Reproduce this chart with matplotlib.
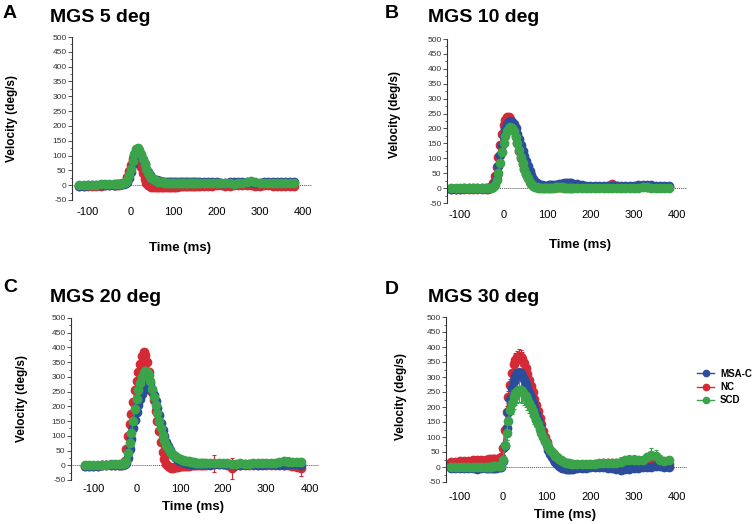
import matplotlib
matplotlib.use('Agg')
import matplotlib.pyplot as plt
from matplotlib.lines import Line2D
from matplotlib.ticker import MultipleLocator

plt.rcParams['font.family'] = ['Liberation Sans', 'DejaVu Sans']
plt.rcParams['axes.unicode_minus'] = False

# time axis (ms): 10 ms samples on the baseline, 4 ms samples around the saccade
time_ms = list(range(-120, -40, 10)) + list(range(-40, 161, 4)) + list(range(170, 381, 10))

# MGS 5 deg
a_msa = [-2, -2, -1, -1, 0, 0, 1, 1,
         2, 2, 3, 3, 3, 4, 5, 7, 12, 25,
         45, 72, 98, 115, 118, 112, 100, 85, 70, 56,
         44, 35, 28, 22, 18, 16, 14, 13, 12, 12,
         11, 11, 11, 10, 10, 10, 10, 10, 10, 10,
         11, 11, 11, 12, 12, 12, 12, 12, 12, 12, 11,
         11, 10, 10, 10, 9, 9, 10, 10, 10, 11, 12, 10, 9, 9, 10, 11, 12, 12, 11, 11, 12, 12]
a_nc = [-4, -4, -3, -3, -2, -2, -1, 0,
        1, 1, 2, 2, 3, 4, 8, 15, 28, 48,
        68, 88, 100, 102, 95, 80, 60, 40, 22, 8,
        0, -4, -6, -7, -7, -7, -7, -7, -6, -6,
        -6, -6, -5, -5, -5, -5, -5, -5, -4, -4,
        -4, -4, -4, -3, -3, -3, -3, -3, -3, -3, -2,
        -2, -2, -2, -1, -1, -2, -2, -1, 0, 2, 1, -1, -2, -2, -1, -1, -2, -3, -3, -2, -3, -4]
a_scd = [0, 1, 1, 2, 2, 3, 3, 4,
         4, 4, 5, 5, 5, 6, 7, 10, 18, 35,
         55, 80, 105, 122, 127, 120, 105, 88, 70, 55,
         42, 32, 25, 20, 16, 13, 12, 11, 10, 10,
         9, 9, 9, 8, 8, 8, 8, 7, 7, 7,
         8, 8, 7, 7, 7, 8, 8, 7, 7, 7, 7,
         7, 6, 6, 6, 7, 7, 6, 5, 6, 9, 12, 13, 10, 7, 6, 6, 7, 8, 8, 7, 7, 6]

# MGS 10 deg
b_msa = [-2, -2, -2, -1, -1, -1, -1, -1,
         -1, -1, 0, 2, 8, 22, 45, 75, 110, 145,
         175, 198, 214, 223, 226, 223, 214, 200, 183, 164,
         145, 126, 108, 90, 73, 57, 43, 31, 22, 16,
         12, 10, 9, 8, 8, 8, 9, 9, 10, 10,
         11, 12, 13, 14, 15, 16, 17, 17, 16, 16, 15,
         13, 10, 8, 7, 7, 8, 7, 6, 6, 7, 8, 7, 6, 7, 9, 11, 12, 10, 8, 7, 6, 6]
b_nc = [-2, -3, -3, -2, -2, -3, -3, -2,
        -2, -2, 0, 5, 18, 40, 70, 105, 145, 180,
        210, 230, 240, 240, 232, 218, 198, 175, 150, 125,
        102, 82, 64, 48, 35, 25, 18, 13, 9, 7,
        6, 5, 5, 4, 4, 4, 4, 4, 4, 4,
        4, 4, 4, 5, 5, 5, 5, 5, 5, 5, 4,
        3, 3, 3, 4, 4, 4, 5, 6, 14, 8, 5, 4, 4, 4, 5, 6, 5, 4, 4, 4, 4, 4]
b_scd = [-1, -1, 0, 0, -1, -1, 0, 0,
         -1, -1, 0, 1, 4, 12, 28, 52, 85, 120,
         150, 175, 193, 203, 206, 202, 190, 172, 150, 127,
         104, 83, 64, 47, 33, 22, 14, 8, 4, 2,
         1, 0, 0, 0, 0, 0, 1, 1, 1, 1,
         2, 2, 2, 2, 2, 1, 1, 1, 1, 1, 1,
         1, 1, 0, 0, 1, 1, 0, 0, 1, 1, 1, 0, 0, 1, 1, 2, 2, 1, 0, 0, 1, 1]

# MGS 20 deg
c_msa = [-2, -2, -1, -1, 0, 0, 0, 1,
         2, 2, 3, 4, 8, 25, 55, 90, 125, 155,
         180, 205, 225, 242, 256, 267, 274, 276, 270, 257,
         240, 218, 195, 170, 145, 120, 98, 80, 65, 52,
         42, 34, 28, 23, 19, 16, 13, 11, 9, 8,
         7, 6, 5, 5, 4, 4, 3, 3, 3, 3, 3,
         2, 3, 4, 5, 4, 3, 2, 2, 2, 3, 3, 2, 2, 3, 4, 3, 2, 2, 3, 4, 3, 2]
c_nc = [-2, -2, -1, -1, 0, 0, 1, 2,
        0, 0, 0, 15, 55, 100, 140, 175, 215, 255,
        285, 315, 345, 372, 384, 375, 350, 315, 280, 250,
        220, 185, 150, 115, 80, 45, 20, 5, -3, -7,
        -8, -8, -7, -6, -5, -4, -3, -2, -2, -1,
        -1, 0, 0, 0, 1, 1, 1, 2, 2, 2, 2,
        3, 6, 5, 4, 2, -10, 0, 2, 3, 2, 1, 2, 3, 2, 1, 2, 3, 2, 0, -2, -5, -10]
c_scd = [0, 0, 1, 1, 2, 2, 3, 3,
         5, 5, 6, 8, 15, 40, 75, 110, 150, 190,
         225, 255, 280, 300, 313, 320, 318, 305, 285, 260,
         232, 205, 178, 152, 125, 102, 85, 70, 58, 48,
         40, 34, 30, 27, 24, 21, 19, 17, 15, 14,
         13, 12, 11, 10, 9, 9, 8, 8, 8, 7, 7,
         7, 8, 8, 8, 7, 6, 6, 7, 6, 6, 7, 8, 8, 7, 8, 9, 10, 14, 12, 11, 10, 11]
c_msa_err = [3, 3, 3, 3, 3, 3, 3, 3,
             3, 3, 3, 3, 4, 5, 6, 7, 8, 8,
             8, 8, 8, 8, 8, 8, 8, 8, 8, 8,
             8, 8, 8, 8, 8, 8, 8, 7, 7, 6,
             6, 5, 5, 5, 5, 4, 4, 4, 4, 4,
             4, 4, 4, 4, 4, 4, 4, 4, 4, 4, 4,
             4, 4, 4, 4, 4, 4, 4, 4, 4, 4, 4, 4, 4, 4, 4, 4, 4, 4, 4, 4, 4, 4]
c_nc_err = [3, 3, 3, 3, 3, 3, 3, 3,
            3, 3, 3, 4, 5, 6, 7, 8, 8, 8,
            8, 8, 8, 8, 8, 8, 8, 8, 8, 8,
            8, 8, 8, 8, 8, 8, 7, 7, 6, 6,
            5, 5, 5, 4, 4, 4, 4, 4, 4, 4,
            4, 4, 4, 4, 4, 4, 4, 4, 5, 5, 5,
            5, 30, 6, 5, 6, 35, 6, 5, 5, 5, 5, 5, 5, 5, 5, 5, 5, 5, 5, 6, 8, 27]
c_scd_err = [3, 3, 3, 3, 3, 3, 3, 3,
             3, 3, 3, 4, 5, 6, 8, 10, 10, 10,
             10, 11, 12, 12, 13, 13, 14, 14, 14, 13,
             13, 12, 12, 11, 11, 10, 10, 9, 9, 8,
             8, 8, 7, 7, 7, 7, 6, 6, 6, 6,
             6, 6, 6, 6, 6, 6, 6, 6, 6, 6, 6,
             5, 5, 5, 6, 6, 6, 6, 6, 7, 7, 7, 8, 8, 8, 9, 10, 12, 14, 16, 12, 10, 12]

# MGS 30 deg
d_msa = [-3, -4, -4, -3, -3, -4, -5, -4,
         -3, -3, -3, -2, -2, -2, -2, -1, -1, 0,
         20, 70, 130, 185, 228, 262, 287, 303, 312, 315,
         312, 304, 292, 277, 262, 248, 232, 214, 196, 177,
         158, 138, 120, 103, 87, 72, 58, 45, 34, 24,
         16, 10, 5, 1, -2, -4, -5, -6, -6, -5, -5,
         -4, -3, -2, -1, 0, 0, -1, -2, -3, -6, -9, -8, -5, -3, -2, -1, 0, 1, 2, 2, 1, 0]
d_nc = [17, 18, 19, 20, 21, 22, 23, 24,
        25, 25, 26, 26, 27, 27, 28, 28, 29, 32,
        65, 125, 185, 234, 275, 315, 343, 358, 366, 370,
        368, 360, 348, 330, 310, 290, 270, 250, 228, 207,
        186, 165, 143, 120, 100, 82, 66, 52, 40, 30,
        22, 16, 12, 9, 7, 6, 5, 5, 5, 5, 5,
        5, 6, 7, 8, 9, 10, 12, 14, 15, 13, 10, 9, 10, 11, 12, 12, 11, 10, 10, 10, 10, 10]
d_scd = [0, 0, 0, 1, 1, 0, 0, 1,
         1, 1, 1, 1, 2, 2, 2, 2, 3, 5,
         25, 75, 115, 155, 190, 215, 233, 246, 254, 258,
         257, 252, 245, 236, 226, 214, 200, 186, 172, 157,
         142, 127, 113, 100, 88, 77, 67, 58, 50, 43,
         37, 32, 27, 23, 20, 17, 15, 13, 12, 11, 10,
         10, 10, 10, 11, 11, 12, 12, 12, 13, 14, 18, 22, 24, 25, 24, 24, 32, 40, 38, 25, 20, 22]
d_msa_err = [4, 4, 4, 4, 4, 4, 4, 4,
             4, 4, 4, 4, 4, 4, 4, 4, 4, 5,
             8, 10, 12, 13, 14, 15, 15, 15, 15, 15,
             15, 15, 14, 14, 14, 13, 13, 12, 12, 11,
             11, 10, 10, 9, 9, 8, 8, 7, 7, 6,
             6, 6, 6, 6, 5, 5, 5, 5, 5, 5, 5,
             5, 5, 5, 5, 5, 5, 5, 5, 6, 6, 6, 6, 5, 5, 5, 5, 5, 5, 5, 5, 5, 5]
d_nc_err = [5, 5, 5, 5, 5, 5, 5, 5,
            5, 5, 5, 5, 5, 5, 5, 5, 6, 8,
            10, 14, 17, 19, 20, 21, 22, 22, 22, 22,
            22, 22, 22, 21, 21, 20, 20, 19, 18, 18,
            17, 16, 15, 14, 13, 12, 11, 10, 9, 8,
            8, 7, 7, 6, 6, 6, 5, 5, 5, 5, 5,
            5, 5, 5, 5, 5, 5, 5, 5, 5, 5, 5, 5, 5, 5, 5, 5, 5, 5, 5, 5, 5, 5]
d_scd_err = [4, 4, 4, 4, 4, 4, 4, 4,
             4, 4, 4, 4, 4, 4, 4, 5, 6, 8,
             12, 18, 24, 30, 34, 37, 39, 40, 40, 40,
             40, 39, 38, 37, 35, 33, 31, 29, 27, 25,
             23, 21, 20, 18, 17, 16, 15, 14, 13, 12,
             12, 11, 10, 10, 9, 9, 9, 8, 8, 8, 8,
             7, 7, 7, 7, 7, 8, 8, 9, 10, 12, 14, 16, 16, 15, 14, 14, 16, 22, 20, 14, 12, 12]

groups = ['MSA-C', 'NC', 'SCD']
colors = {'MSA-C': '#2c4c9c', 'NC': '#d42a35', 'SCD': '#3ba34a'}
draw_order = ['NC', 'MSA-C', 'SCD']

W, H = 756, 524
fig = plt.figure(figsize=(W / 100, H / 100), dpi=100)


def px_axes(left, right, top, bottom):
    return fig.add_axes([left / W, 1 - bottom / H, (right - left) / W, (bottom - top) / H])


def draw_panel(ax, series, errors, xlim, xpad):
    ax.axhline(0, color='#555555', ls=(0, (1, 1)), lw=0.7, zorder=0)
    for g in draw_order:
        err = errors[g] if errors else None
        ax.errorbar(time_ms, series[g], yerr=err, fmt='-o', color=colors[g],
                    ms=6, lw=1, elinewidth=0.8, capsize=1.5, capthick=0.8, zorder=2)
    ax.set_xlim(*xlim)
    ax.set_ylim(-50, 500)
    ax.set_yticks(range(-50, 501, 50))
    ax.yaxis.set_minor_locator(MultipleLocator(25))
    ax.set_xticks([-100, 0, 100, 200, 300, 400])
    for s in ['top', 'right', 'bottom']:
        ax.spines[s].set_visible(False)
    ax.spines['left'].set_linewidth(0.8)
    ax.spines['left'].set_color('#333333')
    ax.tick_params(axis='y', which='major', labelsize=6, length=3, width=0.6, pad=1, colors='#333333')
    ax.tick_params(axis='y', which='minor', length=1.5, width=0.5, colors='#333333')
    ax.tick_params(axis='x', length=0, labelsize=8, pad=xpad)


panels = [
    # letter, title, axes box (l, r, t, b), data, errors, xlim, xpad,
    # letter pos, title pos, ylabel pos, xlabel pos (pixels)
    ('A', 'MGS 5 deg', (72, 312, 37, 200),
     {'MSA-C': a_msa, 'NC': a_nc, 'SCD': a_scd}, None,
     (-137, 422), 5, (10, 14), (50, 18), (12, 119), (180, 248)),
    ('B', 'MGS 10 deg', (447, 687, 39, 203),
     {'MSA-C': b_msa, 'NC': b_nc, 'SCD': b_scd}, None,
     (-130, 422), 5, (392, 14), (428, 18), (395, 115), (580, 245)),
    ('C', 'MGS 20 deg', (71, 319, 318, 480),
     {'MSA-C': c_msa, 'NC': c_nc, 'SCD': c_scd},
     {'MSA-C': c_msa_err, 'NC': c_nc_err, 'SCD': c_scd_err},
     (-152, 422), 3, (10, 287), (50, 297), (22, 398), (193, 507)),
    ('D', 'MGS 30 deg', (446, 687, 317, 482),
     {'MSA-C': d_msa, 'NC': d_nc, 'SCD': d_scd},
     {'MSA-C': d_msa_err, 'NC': d_nc_err, 'SCD': d_scd_err},
     (-131, 422), 7, (392, 289), (428, 297), (401, 397), (565, 515)),
]

for letter, title, box, data, errs, xlim, xpad, lpos, tpos, ypos, xpos in panels:
    ax = px_axes(*box)
    draw_panel(ax, data, errs, xlim, xpad)
    fig.text(lpos[0] / W, 1 - lpos[1] / H, letter, fontsize=14, fontweight='bold',
             ha='center', va='center')
    fig.text(tpos[0] / W, 1 - tpos[1] / H, title, fontsize=14, fontweight='bold',
             ha='left', va='center')
    fig.text(ypos[0] / W, 1 - ypos[1] / H, 'Velocity (deg/s)', fontsize=8.5, fontweight='bold',
             rotation=90, ha='center', va='center')
    fig.text(xpos[0] / W, 1 - xpos[1] / H, 'Time (ms)', fontsize=9.5, fontweight='bold',
             ha='center', va='center')

handles = [Line2D([0], [0], color=colors[g], marker='o', ms=4.5, lw=1) for g in groups]
fig.legend(handles, groups, loc='center left', bbox_to_anchor=(688 / W, 1 - 387 / H),
           frameon=False, handlelength=1.8, handletextpad=0.6, labelspacing=0.35,
           prop={'size': 7, 'weight': 'bold'})

fig.savefig('out.png', dpi=100)
